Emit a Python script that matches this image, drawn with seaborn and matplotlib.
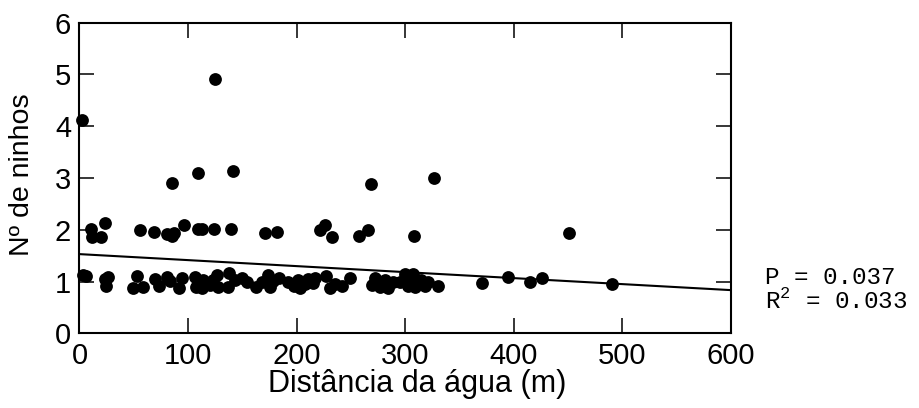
import numpy as np
import pandas as pd
import matplotlib
matplotlib.use("Agg")
import matplotlib.pyplot as plt
import seaborn as sns

# distance to water (m) and number of nests
dist = [
    2, 125, 85, 109, 141.5, 269, 326.5,
    10.6, 11.2, 19.8, 23.5, 56, 68.7, 80.4, 85, 87.4, 96, 109, 113, 124, 139.5,
    171, 182.3, 222, 226, 232.4, 257.6, 266, 308, 451.5,
    3, 6, 23.5, 26.5, 24, 52.7, 49.6, 58.8, 69.6, 73, 80.4, 83.4, 91.7, 94,
    106.5, 107.4, 114, 112.6, 120, 123.3, 127, 128, 138, 137, 143.3, 149.5,
    154, 162.7, 168, 174, 175.6, 178, 184, 192, 198, 201.7, 203, 208, 211,
    215.5, 217, 227, 231, 235.5, 241.7, 249.3, 269.3, 272.4, 277, 281.6,
    284.6, 289, 295, 300, 303, 304.6, 307.6, 309, 315, 318.4, 321.5, 330.7,
    370.5, 394.6, 415, 426, 491,
]
ninhos = [
    4.13, 4.92, 2.90, 3.10, 3.13, 2.89, 3.00,
    2.01, 1.87, 1.87, 2.14, 1.99, 1.95, 1.91, 1.88, 1.94, 2.10, 2.02, 2.01, 2.01, 2.01,
    1.93, 1.96, 2.00, 2.09, 1.87, 1.88, 1.99, 1.88, 1.94,
    1.12, 1.10, 1.04, 1.08, 0.91, 1.10, 0.87, 0.90, 1.04, 0.91, 1.08, 1.02, 0.87, 1.06,
    1.09, 0.90, 1.03, 0.87, 0.93, 1.03, 1.13, 0.90, 1.16, 0.90, 1.03, 1.06,
    1.00, 0.90, 1.00, 1.13, 0.90, 1.02, 1.07, 0.99, 0.92, 1.03, 0.87, 0.95, 1.05,
    0.97, 1.06, 1.10, 0.87, 0.96, 0.91, 1.07, 0.93, 1.07, 0.90, 1.03,
    0.87, 1.00, 0.99, 1.15, 0.92, 1.03, 1.15, 0.90, 1.03, 0.91, 1.00, 0.91,
    0.965, 1.09, 1.00, 1.07, 0.95,
]
# fitted regression line as printed in the figure
fit_x = [0, 600]
fit_y = [1.53, 0.835]

df = pd.DataFrame({"dist": dist, "ninhos": ninhos})
fit = pd.DataFrame({"dist": fit_x, "ninhos": fit_y})

sns.set_style("ticks")
plt.rcParams["font.family"] = ["Liberation Sans", "DejaVu Sans"]
plt.rcParams["mathtext.fontset"] = "custom"
plt.rcParams["mathtext.rm"] = "Liberation Mono"
plt.rcParams["text.color"] = "black"
plt.rcParams["axes.labelcolor"] = "black"

fig = plt.figure(figsize=(9.2, 4.08), dpi=100)
ax = fig.add_axes([0.0864, 0.183, 0.7078, 0.7614])

sns.lineplot(data=fit, x="dist", y="ninhos", ax=ax, color="black", lw=1.5)
sns.scatterplot(data=df, x="dist", y="ninhos", ax=ax, s=85, color="black",
                linewidth=0, clip_on=False, zorder=3)
ax.set_xlim(0, 600)
ax.set_ylim(0, 6)

ax.set_xticks([0, 100, 200, 300, 400, 500, 600])
ax.set_yticks([0, 1, 2, 3, 4, 5, 6])
ax.tick_params(direction="in", length=10.5, width=1.1, top=True, right=True,
               labelsize=21, colors="black", pad=6)
for sp in ax.spines.values():
    sp.set_linewidth(1.5)
    sp.set_color("black")
    sp.set_visible(True)

ax.set_xlabel("Distância da água (m)", fontsize=22)
ax.set_ylabel("Nº de ninhos", fontsize=20.5)
ax.xaxis.set_label_coords(0.518, -0.115)
ax.yaxis.set_label_coords(-0.068, 0.51)

fig.text(0.831, 0.244, "P = 0.037\nR$^2$ = 0.033", family="Liberation Mono",
         fontsize=17.5, va="baseline", linespacing=0.95)

fig.savefig("out.png", dpi=100, facecolor="white")
